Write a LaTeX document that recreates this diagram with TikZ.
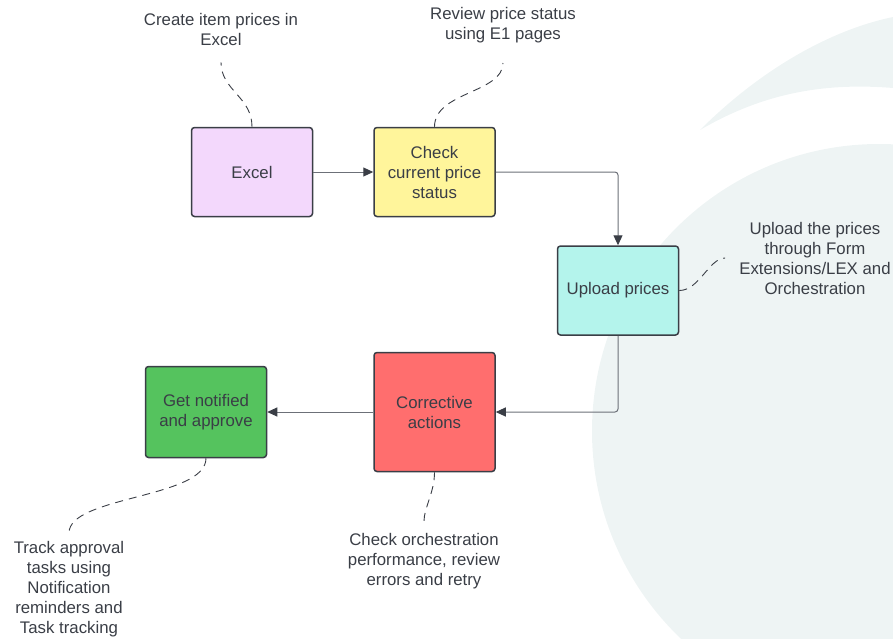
\documentclass[tikz,border=0pt]{standalone}
\usepackage{fontspec}
\setmainfont{Liberation Sans}
\usetikzlibrary{shapes, arrows.meta, positioning}

\definecolor{inkc}{HTML}{3A3E46}
\definecolor{linec}{HTML}{6C7078}
\definecolor{bgc}{HTML}{EEF4F4}
\definecolor{excelc}{HTML}{F3D8FC}
\definecolor{checkc}{HTML}{FFF59B}
\definecolor{uploadc}{HTML}{B4F4EC}
\definecolor{fixc}{HTML}{FF6E6E}
\definecolor{okc}{HTML}{55C35E}

\begin{document}
\begin{tikzpicture}[
  x=1pt, y=-1pt,
  font=\fontsize{16.8}{20}\selectfont,
  text=inkc,
  box/.style={rectangle, draw=inkc, line width=1.5pt, rounded corners=3pt,
    minimum width=121pt, minimum height=89pt, align=center, inner sep=2pt},
  note/.style={align=center, inner sep=0pt},
  flow/.style={->, >={Triangle[length=10pt, width=9pt, color=inkc]},
    draw=linec, line width=1pt, rounded corners=3pt},
  hint/.style={draw=inkc, line width=0.9pt, dash pattern=on 8pt off 6pt}]

  \useasboundingbox (0,0) rectangle (893,638);
  \begin{scope}
	\clip (0,0) rectangle (893,638);
	\fill[bgc] (879,431) circle[radius=287];
	\fill[bgc] (700,130) .. controls (760,70) and (830,30) .. (893,17)
		-- (893,88) .. controls (820,82) and (760,95) .. (700,130);
  \end{scope}

  \node[box, fill=excelc] (excel) at (252,172) {Excel};
  \node[box, fill=checkc, right=60pt of excel] (check) {Check\\current price\\status};
  \node[box, fill=uploadc, below right=28pt and 61pt of check] (upload) {Upload prices};
  \node[box, fill=fixc, minimum height=119pt, below left=16pt and 61pt of upload] (fix) {Corrective\\actions};
  \node[box, fill=okc, minimum height=91pt, left=106pt of fix] (ok) {Get notified\\and approve};

  \node[note] (excelnote) at (221,29) {Create item prices in\\Excel};
  \node[note] (checknote) at (503,25) {Review price status\\using E1 pages};
  \node[note] (uploadnote) at (815,258) {Upload the prices\\through Form\\Extensions/LEX and\\Orchestration};
  \node[note] (fixnote) at (424,561) {Check orchestration\\performance, review\\errors and retry};
  \node[note] (oknote) at (69,589) {Track approval\\tasks using\\Notification\\reminders and\\Task tracking};

  \draw[flow] (excel) -- (check);
  \draw[flow] (check) -| (upload);
  \draw[flow] (upload) |- (fix);
  \draw[flow] (fix) -- (ok);

  \draw[hint, shorten >=17pt] (excel.north) .. controls +(0,-30) and +(0,45) .. (excelnote.south);
  \draw[hint, shorten >=20pt] (check.north) .. controls +(0,-35) and +(0,50) .. (checknote.south);
  \draw[hint, shorten >=14pt] (upload.east) .. controls +(20,0) and +(-30,0) .. (uploadnote.west);
  \draw[hint, shorten >=12pt] (fix.south) .. controls +(0,20) and +(0,-25) .. (fixnote.north);
  \draw[hint, shorten >=8pt] (ok.south) .. controls +(0,40) and +(0,-45) .. (oknote.north);
\end{tikzpicture}
\end{document}
